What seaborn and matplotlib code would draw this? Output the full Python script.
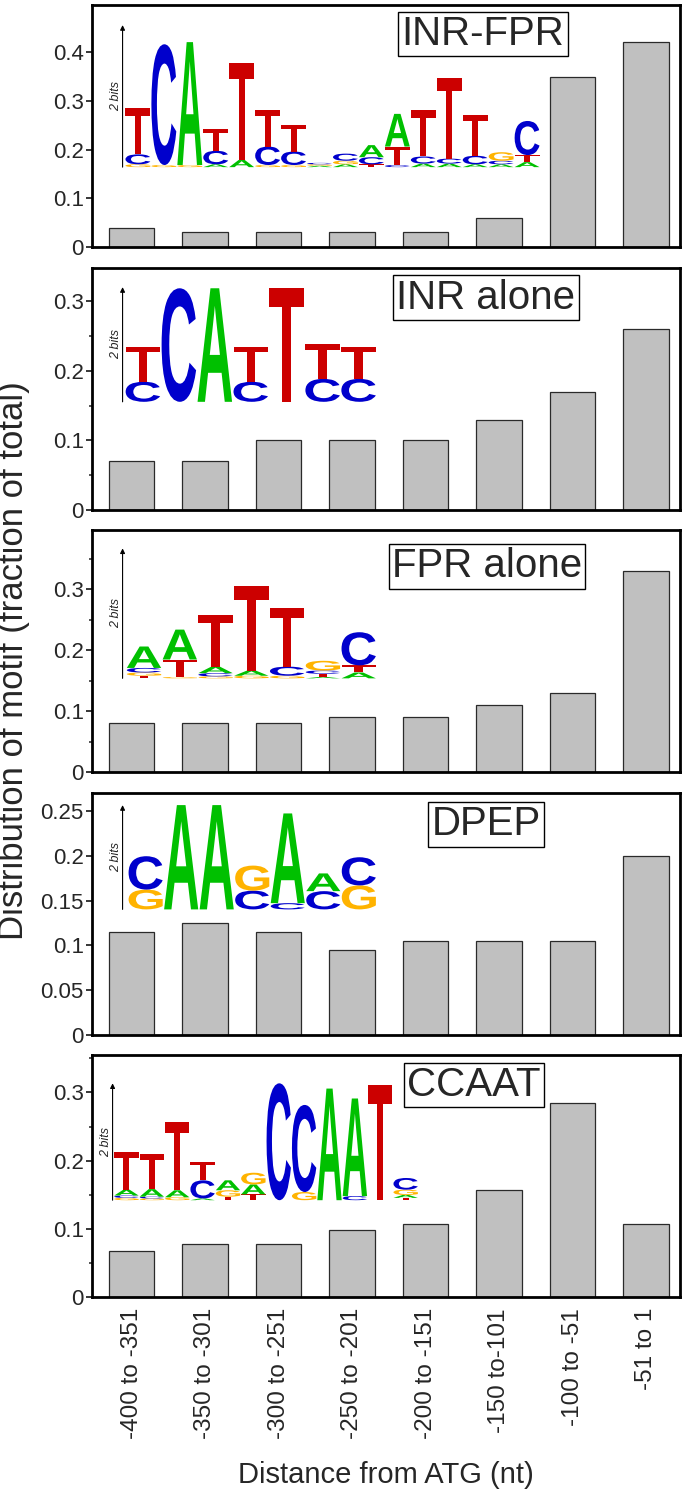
import numpy as np
import matplotlib
matplotlib.use('Agg')
import matplotlib.pyplot as plt
import seaborn as sns
from matplotlib.textpath import TextPath
from matplotlib.patches import PathPatch
from matplotlib.font_manager import FontProperties
from matplotlib.transforms import Affine2D
from matplotlib.ticker import MultipleLocator, FuncFormatter

# bins of distance from ATG
bins = ['-400 to -351', '-350 to -301', '-300 to -251', '-250 to -201',
        '-200 to -151', '-150 to-101', '-100 to -51', '-51 to 1']

motifs = ['INR-FPR', 'INR alone', 'FPR alone', 'DPEP', 'CCAAT']

inr_fpr = [0.04, 0.03, 0.03, 0.03, 0.03, 0.06, 0.35, 0.42]
inr_alone = [0.07, 0.07, 0.10, 0.10, 0.10, 0.13, 0.17, 0.26]
fpr_alone = [0.08, 0.08, 0.08, 0.09, 0.09, 0.11, 0.13, 0.33]
dpep = [0.115, 0.125, 0.115, 0.095, 0.105, 0.105, 0.105, 0.20]
ccaat = [0.068, 0.078, 0.078, 0.098, 0.107, 0.157, 0.284, 0.107]

# sequence logos: per position, (letter, bits) from bottom to top
inr_fpr_logo = [
    [('G', .04), ('C', .14), ('T', .65)],
    [('G', .03), ('C', 1.70)],
    [('G', .03), ('A', 1.73)],
    [('A', .04), ('C', .19), ('T', .30)],
    [('A', .10), ('T', 1.36)],
    [('G', .03), ('C', .26), ('T', .51)],
    [('G', .03), ('C', .19), ('T', .38)],
    [('A', .02), ('G', .02), ('C', .02)],
    [('A', .04), ('G', .05), ('C', .10)],
    [('T', .04), ('C', .10), ('A', .17)],
    [('C', .03), ('T', .26), ('A', .46)],
    [('A', .05), ('C', .10), ('T', .65)],
    [('A', .05), ('C', .07), ('T', 1.13)],
    [('A', .04), ('C', .12), ('T', .58)],
    [('A', .04), ('C', .05), ('G', .12)],
    [('A', .07), ('T', .10), ('C', .48)],
]
inr_logo = [
    [('C', .35), ('T', .61)],
    [('C', 1.98)],
    [('A', 1.98)],
    [('C', .35), ('T', .61)],
    [('T', 1.98)],
    [('C', .40), ('T', .61)],
    [('C', .40), ('T', .55)],
]
fpr_logo = [
    [('T', .04), ('G', .05), ('C', .07), ('A', .33)],
    [('G', .02), ('T', .27), ('A', .46)],
    [('G', .03), ('C', .05), ('A', .10), ('T', .80)],
    [('G', .04), ('A', .08), ('T', 1.30)],
    [('G', .04), ('C', .14), ('T', .90)],
    [('A', .02), ('T', .05), ('C', .05), ('G', .15)],
    [('A', .09), ('T', .11), ('C', .51)],
]
dpep_logo = [
    [('G', .38), ('C', .64)],
    [('A', 2.0)],
    [('A', 2.0)],
    [('C', .36), ('G', .48)],
    [('C', .12), ('A', 1.72)],
    [('C', .35), ('A', .34)],
    [('G', .46), ('C', .54)],
]
ccaat_logo = [
    [('G', .04), ('C', .04), ('A', .10), ('T', .64)],
    [('G', .03), ('C', .03), ('A', .13), ('T', .60)],
    [('G', .05), ('A', .12), ('T', 1.17)],
    [('A', .03), ('C', .31), ('T', .31)],
    [('T', .06), ('G', .11), ('A', .17)],
    [('T', .10), ('A', .17), ('G', .20)],
    [('C', 2.0)],
    [('G', .14), ('C', 1.49)],
    [('A', 1.91)],
    [('C', .07), ('A', 1.67)],
    [('T', 1.97)],
    [('T', .04), ('A', .05), ('G', .09), ('C', .20)],
]

base_colors = {'A': '#00c000', 'C': '#0000cc', 'G': '#ffb300', 'T': '#cc0000'}

sns.set_style('ticks')
plt.rcParams['font.family'] = ['Liberation Sans', 'DejaVu Sans']

letter_font = FontProperties(family=['Liberation Sans', 'DejaVu Sans'], weight='bold')


def draw_logo(ax, logo, x0, x1, y0, y2, arrow_x):
    # y0 = baseline, y2 = height of 2 bits (axes fraction)
    per_bit = (y2 - y0) / 2.0
    w = (x1 - x0) / len(logo)
    for i, stack in enumerate(logo):
        y = y0
        for letter, bits in stack:
            h = bits * per_bit
            tp = TextPath((0, 0), letter, size=1, prop=letter_font)
            ext = tp.get_extents()
            tr = (Affine2D().translate(-ext.x0, -ext.y0)
                  .scale(w * 0.96 / ext.width, h / ext.height)
                  .translate(x0 + i * w + w * 0.02, y) + ax.transAxes)
            ax.add_patch(PathPatch(tp, transform=tr, fc=base_colors[letter],
                                   ec='none', clip_on=False))
            y += h
    ax.annotate('', xy=(arrow_x, y2), xytext=(arrow_x, y0),
                xycoords='axes fraction',
                arrowprops=dict(arrowstyle='-|>', lw=0.8, color='black',
                                mutation_scale=7, shrinkA=0, shrinkB=0))
    ax.text(arrow_x - 0.011, (y0 + y2) / 2, '2 bits', transform=ax.transAxes,
            rotation=90, style='italic', fontsize=9, ha='center', va='center')


series = [inr_fpr, inr_alone, fpr_alone, dpep, ccaat]
logos = [inr_fpr_logo, inr_logo, fpr_logo, dpep_logo, ccaat_logo]
ylims = [0.497, 0.348, 0.397, 0.27, 0.355]
major = [0.1, 0.1, 0.1, 0.05, 0.1]
minor = [None, 0.05, 0.05, None, 0.05]
logo_box = [(0.056, 0.762, 0.33, 0.917, 0.052),
            (0.056, 0.484, 0.447, 0.921, 0.052),
            (0.058, 0.484, 0.387, 0.924, 0.052),
            (0.061, 0.484, 0.519, 0.95, 0.052),
            (0.037, 0.555, 0.40, 0.883, 0.035)]
title_pos = [(0.665, 0.88), (0.67, 0.878), (0.672, 0.85), (0.67, 0.87), (0.65, 0.876)]

W, H = 685, 1490
fig = plt.figure(figsize=(W / 100, H / 100), dpi=100)
tops = [5, 268, 530, 793, 1055]
ph = 242
left, right = 92, 680

for k in range(5):
    ax = fig.add_axes([left / W, 1 - (tops[k] + ph) / H, (right - left) / W, ph / H])
    sns.barplot(x=bins, y=series[k], ax=ax, color='#c0c0c0', saturation=1,
                edgecolor='#2a2a2a', linewidth=0.9, width=0.62)
    ax.set_xlim(-0.54, 7.46)
    ax.set_ylim(0, ylims[k])
    ax.yaxis.set_major_locator(MultipleLocator(major[k]))
    if minor[k]:
        ax.yaxis.set_minor_locator(MultipleLocator(minor[k]))
    ax.yaxis.set_major_formatter(FuncFormatter(lambda v, p: '%g' % round(v, 3)))
    ax.tick_params(axis='y', which='major', direction='out', length=4, width=1.3,
                   labelsize=16, pad=2)
    ax.tick_params(axis='y', which='minor', direction='out', length=2.5, width=1.1)
    ax.tick_params(axis='x', length=0, labelsize=17.5, pad=8)
    for s in ax.spines.values():
        s.set_visible(True)
        s.set_linewidth(2)
        s.set_color('black')
    ax.set_xlabel('')
    ax.set_ylabel('')
    if k < 4:
        ax.set_xticklabels([])
    else:
        ax.set_xticks(range(len(bins)))
        ax.set_xticklabels(bins, rotation=90, va='top', ha='center')
    x0, x1, y0, y2, axx = logo_box[k]
    draw_logo(ax, logos[k], x0, x1, y0, y2, axx)
    tx, ty = title_pos[k]
    ax.text(tx, ty, motifs[k], transform=ax.transAxes, fontsize=29,
            ha='center', va='center',
            bbox=dict(boxstyle='square,pad=0.08', fc='white', ec='black', lw=1))

fig.text(0.02, 1 - 661 / H, 'Distribution of motif (fraction of total)',
         rotation=90, fontsize=25, ha='center', va='center')
fig.text((left + right) / 2 / W, 1 - 1475 / H, 'Distance from ATG (nt)',
         fontsize=21, ha='center', va='center')

fig.savefig('out.png', dpi=100)
